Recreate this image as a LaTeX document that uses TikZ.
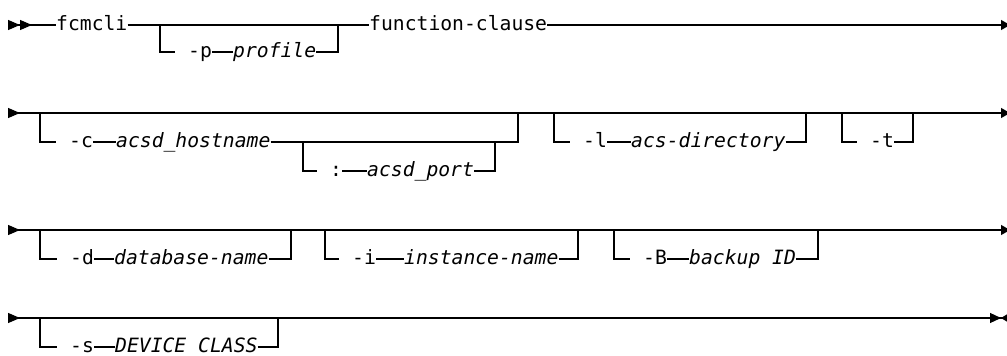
\documentclass[tikz,border=0pt]{standalone}
\usepackage{fontspec}
\setmainfont{DejaVu Sans Mono}[ItalicFont={DejaVu Sans Mono Oblique}]
\usetikzlibrary{arrows.meta}
\newcommand\railfont{\fontsize{19.7pt}{22pt}\selectfont}
\tikzset{
	kw/.style={anchor=mid west,inner sep=0pt},
	var/.style={kw,font=\itshape},
	rail/.style={line width=1.2pt},
	railin/.style={rail,shorten >=13pt},
	railbeg2/.style={rail,{Triangle[reversed,length=12pt,width=10pt]Triangle[reversed,length=12pt,width=10pt]}-},
	railend/.style={rail,-{Triangle[length=9pt,width=10pt]}},
	railrow/.style={rail,{Triangle[reversed,length=12pt,width=10pt]}-{Triangle[length=9pt,width=10pt]}},
	lastrow/.style={rail,{Triangle[reversed,length=12pt,width=10pt]}-{Triangle[length=11pt,width=10pt]Triangle[reversed,length=6pt,width=7pt]}}
}
\begin{document}
\begin{tikzpicture}[x=1pt,y=-1pt,execute at begin picture=\railfont]
	\useasboundingbox (0,0) rectangle (1007,356);
	% first line
	\coordinate (beg1) at (8,25);
	\coordinate (end1) at (1010,25);
	\node[kw] at (56,25) (fcmcli) {fcmcli};
	\coordinate (p-in) at (160,25);
	\coordinate (p-out) at (338,25);
	\node[kw] at (188,52) (optp) {-p};
	\node[var] at (233,52) (profile) {profile};
	\node[kw] at (369,25) (fclause) {function-clause};
	\draw[railbeg2] (beg1) -- (fcmcli.mid west);
	\draw[rail] (fcmcli.mid east) -- (fclause.mid west);
	\draw[railend] (fclause.mid east) -- (end1);
	\draw[railin] (p-in) |- (optp.mid west);
	\path[rail] (optp.mid east) edge (profile.mid west);
	\draw[rail] (profile.mid east) -| (p-out);
	% second line
	\coordinate (beg2) at (8,113);
	\coordinate (end2) at (1010,113);
	\coordinate (c-in) at (40,113);
	\coordinate (c-out) at (518,113);
	\node[kw] at (69,142) (optc) {-c};
	\node[var] at (116,142) (host) {acsd\_hostname};
	\coordinate (port-in) at (303,142);
	\coordinate (port-out) at (495,142);
	\node[kw] at (330,171) (colon) {:};
	\node[var] at (367,171) (port) {acsd\_port};
	\coordinate (l-in) at (554,113);
	\coordinate (l-out) at (806,113);
	\node[kw] at (583,142) (optl) {-l};
	\node[var] at (631,142) (acsdir) {acs-directory};
	\coordinate (t-in) at (842,113);
	\coordinate (t-out) at (913,113);
	\node[kw] at (870,142) (optt) {-t};
	\draw[railrow] (beg2) -- (end2);
	\draw[railin] (c-in) |- (optc.mid west);
	\path[rail] (optc.mid east) edge (host.mid west);
	\draw[rail] (host.mid east) -| (c-out);
	\draw[railin] (port-in) |- (colon.mid west);
	\path[rail] (colon.mid east) edge (port.mid west);
	\draw[rail] (port.mid east) -| (port-out);
	\draw[railin] (l-in) |- (optl.mid west);
	\path[rail] (optl.mid east) edge (acsdir.mid west);
	\draw[rail] (acsdir.mid east) -| (l-out);
	\draw[railin] (t-in) |- (optt.mid west);
	\draw[rail] (optt.mid east) -| (t-out);
	% third line
	\coordinate (beg3) at (8,230);
	\coordinate (end3) at (1010,230);
	\coordinate (d-in) at (40,230);
	\coordinate (d-out) at (291,230);
	\node[kw] at (70,259) (optd) {-d};
	\node[var] at (114,259) (dbname) {database-name};
	\coordinate (i-in) at (325,230);
	\coordinate (i-out) at (578,230);
	\node[kw] at (352,259) (opti) {-i};
	\node[var] at (404,259) (instname) {instance-name};
	\coordinate (b-in) at (614,230);
	\coordinate (b-out) at (818,230);
	\node[kw] at (643,259) (optb) {-B};
	\node[var] at (689,259) (backup) {backup ID};
	\draw[railrow] (beg3) -- (end3);
	\draw[railin] (d-in) |- (optd.mid west);
	\path[rail] (optd.mid east) edge (dbname.mid west);
	\draw[rail] (dbname.mid east) -| (d-out);
	\draw[railin] (i-in) |- (opti.mid west);
	\path[rail] (opti.mid east) edge (instname.mid west);
	\draw[rail] (instname.mid east) -| (i-out);
	\draw[railin] (b-in) |- (optb.mid west);
	\path[rail] (optb.mid east) edge (backup.mid west);
	\draw[rail] (backup.mid east) -| (b-out);
	% last line
	\coordinate (beg4) at (8,318);
	\coordinate (end4) at (1007,318);
	\coordinate (s-in) at (40,318);
	\coordinate (s-out) at (278,318);
	\node[kw] at (70,347) (opts) {-s};
	\node[var] at (115,347) (devclass) {DEVICE CLASS};
	\draw[lastrow] (beg4) -- (end4);
	\draw[railin] (s-in) |- (opts.mid west);
	\path[rail] (opts.mid east) edge (devclass.mid west);
	\draw[rail] (devclass.mid east) -| (s-out);
\end{tikzpicture}
\end{document}
